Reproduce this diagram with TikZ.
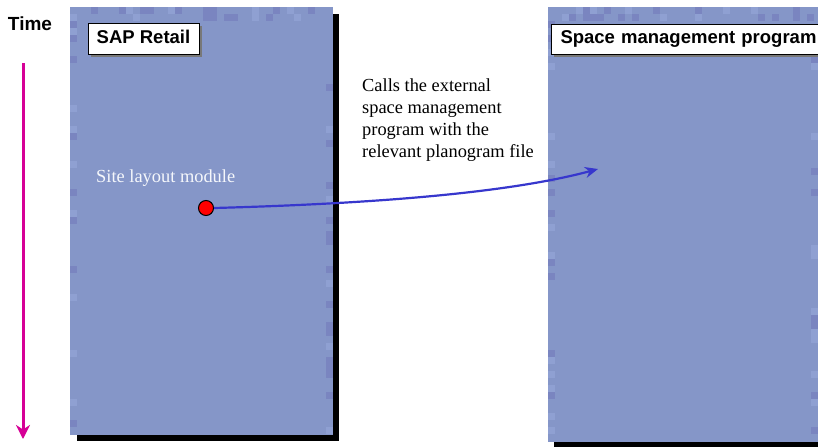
\documentclass[tikz,border=0pt]{standalone}
\usepackage{fontspec}
\setmainfont{Liberation Serif}
\newfontfamily\arialf{Liberation Sans}
\usetikzlibrary{arrows.meta}
\definecolor{panelc}{RGB}{133,150,200}
\definecolor{pdark}{RGB}{122,133,192}
\definecolor{plight}{RGB}{143,160,210}
\definecolor{timec}{RGB}{214,0,150}
\definecolor{flowc}{RGB}{55,55,205}
\definecolor{boxshadow}{RGB}{120,120,120}
\pgfmathsetseed{7}
\pgfmathdeclarerandomlist{shades}{{panelc}{panelc}{panelc}{panelc}{panelc}{pdark}{plight}}
\tikzset{
  panelbox/.style={fill=panelc, draw=none},
  panelshadow/.style={fill=black, draw=none},
  titlebox/.style={draw=black, line width=1pt, fill=white, font=\arialf\bfseries\fontsize{18.5}{20}\selectfont, inner sep=0pt, text height=13pt, text depth=4pt},
  titleshadow/.style={fill=boxshadow, draw=none},
  bodytext/.style={font=\fontsize{18.4}{22}\selectfont, align=left, inner sep=0pt},
  flowarrow/.style={draw=flowc, line width=2.2pt, -{Stealth[length=13pt,width=11pt]}},
  timearrow/.style={draw=timec, line width=3pt, -{Stealth[length=14pt,width=14pt]}},
  dotstyle/.style={circle, fill=red, draw=black, line width=1pt, minimum size=15pt, inner sep=0pt}
}
\newcommand{\tilesq}[2]{\pgfmathrandomitem{\tc}{shades}\fill[\tc] (#1,#2) rectangle ++(7,7);}
\begin{document}
\begin{tikzpicture}[x=1pt,y=-1pt]
\useasboundingbox (0,0) rectangle (818,447);
\fill[white] (0,0) rectangle (818,447);
% left panel
\fill[panelshadow] (77,14) rectangle (339,441);
\fill[panelbox] (70,7) rectangle (333,435);
\foreach \x in {70,77,...,326}{\tilesq{\x}{7}\tilesq{\x}{14}}
\foreach \y in {21,28,...,428}{\tilesq{70}{\y}\tilesq{326}{\y}}
% right panel
\fill[panelshadow] (554,14) rectangle (824,447);
\fill[panelbox] (548,7) rectangle (818,442);
\foreach \x in {548,555,...,811}{\tilesq{\x}{7}\tilesq{\x}{14}}
\foreach \y in {21,28,...,435}{\tilesq{548}{\y}\tilesq{811}{\y}}
% time
\node[font=\arialf\bfseries\fontsize{19}{21}\selectfont, inner sep=0pt] (time) at (30,24) {Time};
\coordinate (tstart) at (23,63);
\coordinate (tend) at (23,439);
\draw[timearrow] (tstart) -- (tend);
% title boxes
\fill[titleshadow] (91,26) rectangle (202,57);
\node[titlebox, minimum width=111pt, minimum height=31pt] (sap) at (143.5,38.5) {SAP Retail};
\fill[titleshadow] (554,27) rectangle (830,57);
\node[titlebox, minimum width=273pt, minimum height=30pt, anchor=west, text width=273pt, align=left] (spm) at (551,39) {\hspace*{9pt}Space management program};
% texts
\node[bodytext, text=white!92!panelc, anchor=west] (site) at (96,178) {Site layout module};
\node[bodytext, anchor=north west] (calls) at (362,79) {Calls the external\\space management\\program with the\\relevant planogram file};
% flow
\node[dotstyle] (dot) at (206,208) {};
\coordinate (target) at (598,169);
\draw[flowarrow] (dot.east) .. controls (400,203) and (520,190) .. (target);
\end{tikzpicture}
\end{document}
